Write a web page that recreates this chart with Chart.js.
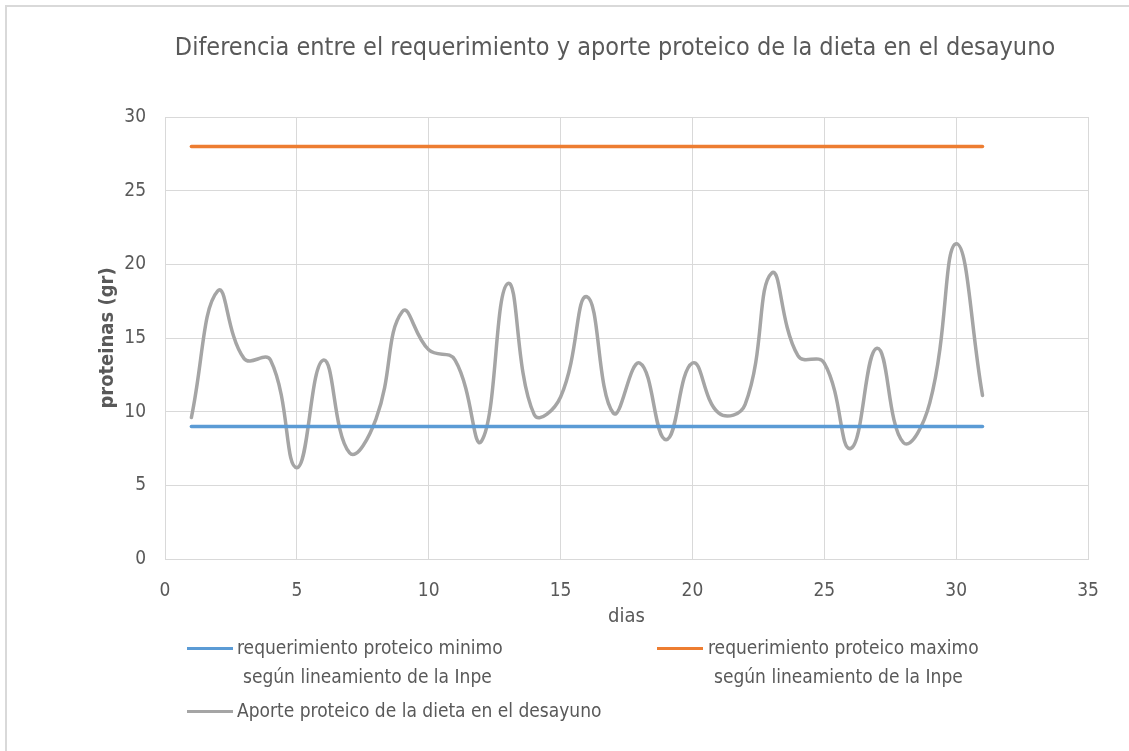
<!DOCTYPE html>
<html>
<head>
<meta charset="utf-8">
<script src="https://cdn.jsdelivr.net/npm/chart.js@4.4.1/dist/chart.umd.min.js"></script>
<style>
  body { margin: 0; background: #fff; }
  .wrap { position: relative; width: 1129px; height: 751px; overflow: hidden; }
  .frame { position: absolute; left: 5px; top: 5px; right: -10px; bottom: -10px;
           border-left: 2px solid #d9d9d9; border-top: 2px solid #d9d9d9; }
  canvas { position: absolute; left: 0; top: 0; }
  .title { position: absolute; left: 315px; width: 600px; top: 32px; text-align: center;
           font-family: "Liberation Sans Narrow", "DejaVu Sans Condensed", sans-serif;
           font-size: 25px; line-height: 30px; color: #595959; white-space: nowrap;
           display: flex; justify-content: center; }
  .legend { position: absolute; font-family: "Liberation Sans Narrow", "DejaVu Sans Condensed", sans-serif;
            font-size: 19px; color: #595959; line-height: 29px; }
  .legend .swatch { position: absolute; height: 3px; }
  .legend .txt { position: absolute; white-space: nowrap; }
</style>
</head>
<body>
<div class="wrap">
  <div class="frame"></div>
  <canvas id="myChart" width="1129" height="751"></canvas>
  <div class="title" id="title"></div>
  <div class="legend" id="legend"></div>
</div>
<script>
const chartTitle = "Diferencia entre el requerimiento y aporte proteico de la dieta en el desayuno";
const xTitle = "dias";
const yTitle = "proteinas (gr)";

const days = [1,2,3,4,5,6,7,8,9,10,11,12,13,14,15,16,17,18,19,20,21,22,23,24,25,26,27,28,29,30,31];
const minimo = [9,9,9,9,9,9,9,9,9,9,9,9,9,9,9,9,9,9,9,9,9,9,9,9,9,9,9,9,9,9,9];
const maximo = [28,28,28,28,28,28,28,28,28,28,28,28,28,28,28,28,28,28,28,28,28,28,28,28,28,28,28,28,28,28,28];
const aporte = [9.6,18.2,13.6,13.5,6.2,13.5,7.2,9.5,16.8,14.2,13.5,8.0,18.7,9.8,11.0,17.8,9.9,13.3,8.1,13.3,9.9,10.5,19.4,13.8,13.3,7.5,14.3,7.9,10.6,21.4,11.1];

const seriesNames = [
    ["requerimiento proteico minimo", "según lineamiento de la Inpe"],
    ["requerimiento proteico maximo", "según lineamiento de la Inpe"],
    ["Aporte proteico de la dieta en el desayuno"]
];
const seriesColors = ['#5B9BD5', '#ED7D31', '#A5A5A5'];

const textColor = '#595959';
const gridColor = '#d9d9d9';
const fontFamily = '"Liberation Sans Narrow", "DejaVu Sans Condensed", sans-serif';

function toPoints(values) {
    return days.map((d, i) => ({x: d, y: values[i]}));
}

function renderChart() {
    var ctx = document.getElementById("myChart").getContext('2d');
    const seriesValues = [minimo, maximo, aporte];
    new Chart(ctx, {
        type: 'scatter',
        data: {
            datasets: seriesValues.map((vals, i) => ({
                label: seriesNames[i].join(' '),
                data: toPoints(vals),
                showLine: true,
                borderColor: seriesColors[i],
                backgroundColor: seriesColors[i],
                borderWidth: 3.5,
                pointRadius: 0,
                tension: i == 2 ? 0.45 : 0,
                borderCapStyle: 'round'
            }))
        },
        options: {
            responsive: false,
            animation: false,
            layout: { padding: { left: 0, right: 41, top: 117, bottom: 122 } },
            plugins: {
                legend: { display: false },
                tooltip: { enabled: false },
                title: { display: false }
            },
            scales: {
                x: {
                    type: 'linear',
                    min: 0, max: 35,
                    ticks: { stepSize: 5, color: textColor, padding: 21, font: { family: fontFamily, size: 19 } },
                    grid: { color: gridColor, drawTicks: false },
                    border: { color: gridColor },
                    title: { display: true, text: xTitle, color: textColor, padding: { top: 0, bottom: 0 },
                             font: { family: fontFamily, size: 20 } },
                    afterFit: function(scale) { scale.height = 70; }
                },
                y: {
                    min: 0, max: 30,
                    ticks: { stepSize: 5, color: textColor, padding: 19, font: { family: fontFamily, size: 19 } },
                    grid: { color: gridColor, drawTicks: false },
                    border: { color: gridColor },
                    title: { display: true, text: yTitle, color: textColor, padding: { top: 96, bottom: 0 },
                             font: { family: fontFamily, size: 20, weight: 'bold' } },
                    afterFit: function(scale) { scale.width = 165; }
                }
            }
        }
    });
}

function buildLegend() {
    let legend = document.getElementById("legend");
    // [swatch x, swatch width, line y, text x, indent of 2nd line]
    const spots = [
        [187, 46, 648, 237, 6],
        [657, 46, 648, 708, 6],
        [187, 46, 711, 237, 0]
    ];
    seriesNames.forEach((lines, i) => {
        let s = spots[i];
        let sw = document.createElement("div");
        sw.className = "swatch";
        sw.style.left = s[0] + "px";
        sw.style.top = (s[2] - 1) + "px";
        sw.style.width = s[1] + "px";
        sw.style.background = seriesColors[i];
        legend.append(sw);
        lines.forEach((line, j) => {
            let t = document.createElement("div");
            t.className = "txt";
            t.textContent = line;
            t.style.left = (s[3] + (j > 0 ? s[4] : 0)) + "px";
            t.style.top = (s[2] + j * 29 - 15) + "px";
            legend.append(t);
        });
    });
}

document.getElementById("title").textContent = chartTitle;
buildLegend();
renderChart();
</script>
</body>
</html>
